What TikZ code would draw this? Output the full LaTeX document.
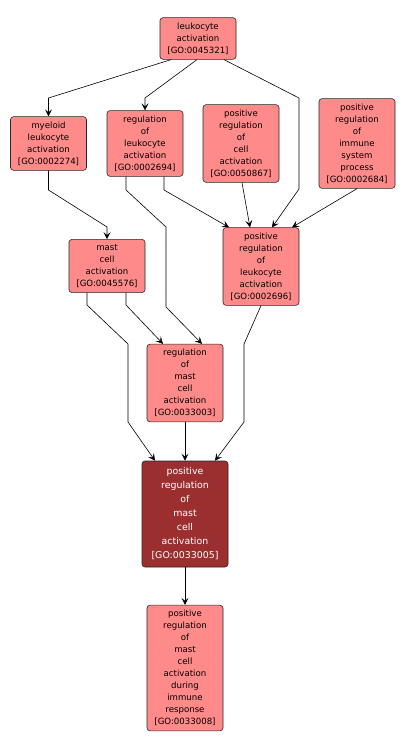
\documentclass[tikz,border=0pt]{standalone}
\usepackage{fontspec}
\setsansfont{DejaVu Sans}
\usetikzlibrary{arrows.meta}
\definecolor{golight}{HTML}{FF8A8A}
\definecolor{godark}{HTML}{9B2F2F}
\tikzset{
  goterm/.style={draw=black!85,line width=0.6pt,fill=golight,rounded corners=3pt,
    minimum width=76pt,inner xsep=1pt,inner ysep=5pt,align=center,
    font=\sffamily\fontsize{8.6}{12}\selectfont},
  gofocus/.style={goterm,fill=godark,text=white,minimum width=86pt,minimum height=106pt,
    inner ysep=3pt,font=\sffamily\fontsize{9.4}{14}\selectfont},
  isa/.style={draw,line width=0.6pt,-{Stealth[length=7pt,width=7pt,inset=3pt]}}
}
\begin{document}
\begin{tikzpicture}[x=1pt,y=-1pt]
\useasboundingbox (0,0) rectangle (406,749);
% ---------- terms ----------
\node[goterm] (la)    at (198,38.5)  {leukocyte\\activation\\{[GO:0045321]}};
\node[goterm] (mla)   at (48.5,143.5) {myeloid\\leukocyte\\activation\\{[GO:0002274]}};
\node[goterm] (rla)   at (145,143.5) {regulation\\of\\leukocyte\\activation\\{[GO:0002694]}};
\node[goterm] (prca)  at (241,143.5) {positive\\regulation\\of\\cell\\activation\\{[GO:0050867]}};
\node[goterm] (prisp) at (357,143.5) {positive\\regulation\\of\\immune\\system\\process\\{[GO:0002684]}};
\node[goterm] (mca)   at (107,266)   {mast\\cell\\activation\\{[GO:0045576]}};
\node[goterm] (prla)  at (261,266.5) {positive\\regulation\\of\\leukocyte\\activation\\{[GO:0002696]}};
\node[goterm] (rmca)  at (185,383)   {regulation\\of\\mast\\cell\\activation\\{[GO:0033003]}};
\node[gofocus] (prmca) at (185,514)  {positive\\regulation\\of\\mast\\cell\\activation\\{[GO:0033005]}};
\node[goterm] (prmcir) at (185,668)  {positive\\regulation\\of\\mast\\cell\\activation\\during\\immune\\response\\{[GO:0033008]}};
% ---------- is_a / regulates edges ----------
\draw[isa] ([xshift=-27pt]la.south) -- (48.5,98) -- (mla.north);
\draw[isa] ([xshift=-1pt]la.south) -- (145,98) -- (rla.north);
\draw[isa] ([xshift=26pt]la.south) -- (299,98) -- (299,189) -- ([xshift=11pt]prla.north);
\draw[isa] (mla.south) -- (48.5,190) -- (107,227) -- (mca.north);
\draw[isa] ([xshift=-19pt]rla.south) -- (126,190) -- (166,227) -- (166,307) -- ([xshift=17pt]rmca.north);
\draw[isa] ([xshift=19pt]rla.south) -- (164,190) -- ([xshift=-32pt]prla.north);
\draw[isa] ([xshift=1pt]prca.south) -- ([xshift=-11pt]prla.north);
\draw[isa] (prisp.south) -- ([xshift=31pt]prla.north);
\draw[isa] ([xshift=19pt]mca.south) -- (126,305) -- ([xshift=-22pt]rmca.north);
\draw[isa] ([xshift=-20pt]mca.south) -- (87,305) -- (128,344) -- (128,422) -- ([xshift=-30pt]prmca.north);
\draw[isa] (prla.south) -- (244,344) -- (244,422) -- ([xshift=30pt]prmca.north);
\draw[isa] (rmca.south) -- (prmca.north);
\draw[isa] (prmca.south) -- (prmcir.north);
\end{tikzpicture}
\end{document}
